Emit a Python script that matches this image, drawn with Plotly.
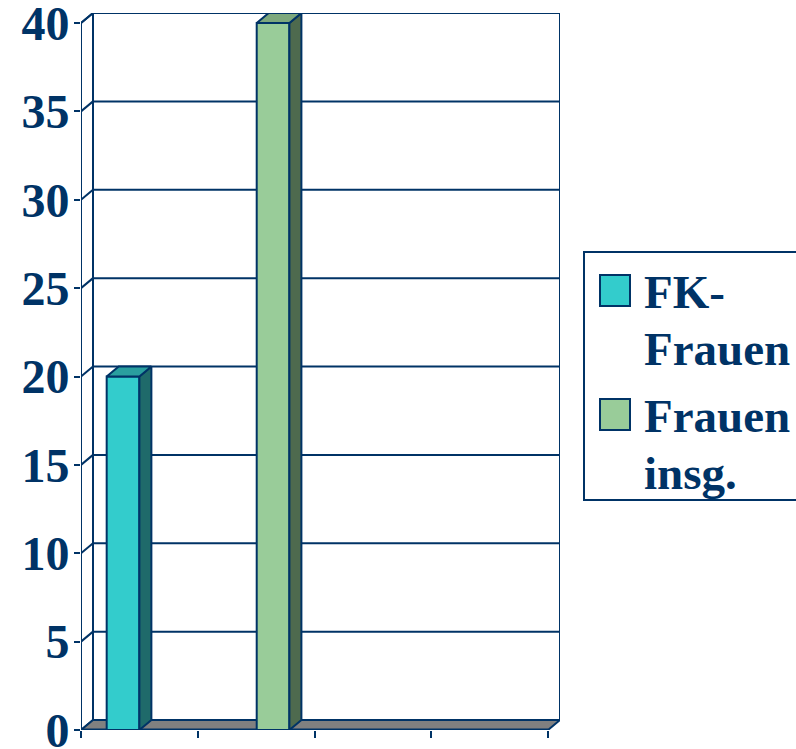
import plotly.graph_objects as go

# --- data -------------------------------------------------------------
series = ["FK-Frauen", "Frauen insg."]
legend_lines = [["FK-", "Frauen"], ["Frauen", "insg."]]
values = [20, 40]
y_ticks = [0, 5, 10, 15, 20, 25, 30, 35, 40]

# --- styling / geometry -------------------------------------------------
NAVY = "#003366"
FACE = ["#33CCCC", "#99CC99"]
TOP = ["#2A9F9F", "#7DA87D"]
SIDE = ["#1F6A6A", "#4E6A4E"]
FLOOR = "#808080"
FONT = "Liberation Serif"

W, H = 796, 749
ML, MR, MT, MB = 81, 236, 13, 19
DEPTH_PX_X, DEPTH_PX_Y = 12, 10
N_SLOTS = 4
Y_MAX = 40

slot_px = (W - ML - MR - DEPTH_PX_X) / N_SLOTS
unit_px = (H - MT - MB - DEPTH_PX_Y) / Y_MAX
DX = DEPTH_PX_X / slot_px
DY = DEPTH_PX_Y / unit_px

bar_centers = [0.36, 1.645]
bar_width = 0.28

fig = go.Figure()

# Front faces of the bars
fig.add_trace(go.Bar(
    x=bar_centers, y=values, width=bar_width,
    marker=dict(color=FACE, line=dict(color=NAVY, width=2)),
    showlegend=False, hoverinfo="skip",
))

# Side and top faces give the bars their depth
for i, v in enumerate(values):
    xl = bar_centers[i] - bar_width / 2
    xr = bar_centers[i] + bar_width / 2
    fig.add_trace(go.Scatter(
        x=[xr, xr + DX, xr + DX, xr, xr],
        y=[0, DY, v + DY, v, 0],
        fill="toself", fillcolor=SIDE[i], mode="lines",
        line=dict(color=NAVY, width=2), showlegend=False, hoverinfo="skip",
    ))
    fig.add_trace(go.Scatter(
        x=[xl, xl + DX, xr + DX, xr, xl],
        y=[v, v + DY, v + DY, v, v],
        fill="toself", fillcolor=TOP[i], mode="lines",
        line=dict(color=NAVY, width=2), showlegend=False, hoverinfo="skip",
    ))

shapes = []
# back wall
shapes.append(dict(type="rect", xref="x", yref="y", layer="below",
                   x0=DX, x1=N_SLOTS + DX, y0=DY, y1=Y_MAX + DY,
                   fillcolor="white", line=dict(color=NAVY, width=2)))
# left wall
shapes.append(dict(type="path", xref="x", yref="y", layer="below",
                   path=f"M 0 0 L {DX} {DY} L {DX} {Y_MAX + DY} L 0 {Y_MAX} Z",
                   fillcolor="white", line=dict(color=NAVY, width=2)))
# grid lines on back wall and left wall
for t in y_ticks[1:]:
    shapes.append(dict(type="line", xref="x", yref="y", layer="below",
                       x0=DX, x1=N_SLOTS + DX, y0=t + DY, y1=t + DY,
                       line=dict(color=NAVY, width=2)))
    shapes.append(dict(type="line", xref="x", yref="y", layer="below",
                       x0=0, x1=DX, y0=t, y1=t + DY,
                       line=dict(color=NAVY, width=2)))
# floor
shapes.append(dict(type="path", xref="x", yref="y", layer="below",
                   path=f"M 0 0 L {N_SLOTS} 0 L {N_SLOTS + DX} {DY} L {DX} {DY} Z",
                   fillcolor=FLOOR, line=dict(color=NAVY, width=2)))
shapes.append(dict(type="line", xref="x", yref="y", layer="below",
                   x0=0, x1=N_SLOTS, y0=0, y1=0,
                   line=dict(color=NAVY, width=3)))
# front vertical edge of the value axis
shapes.append(dict(type="line", xref="x", yref="y", layer="below",
                   x0=0, x1=0, y0=0, y1=Y_MAX,
                   line=dict(color=NAVY, width=2)))

# --- legend (drawn in pixel-derived paper coordinates) ------------------
plot_w = W - ML - MR
plot_h = H - MT - MB


def px_x(px):
    return (px - ML) / plot_w


def px_y(py):
    return (H - MB - py) / plot_h


shapes.append(dict(type="rect", xref="paper", yref="paper",
                   x0=px_x(584), x1=px_x(805), y0=px_y(500), y1=px_y(252),
                   fillcolor="white", line=dict(color=NAVY, width=2)))
annotations = []
legend_tops = [275, 399]
for i, lines in enumerate(legend_lines):
    top = legend_tops[i]
    shapes.append(dict(type="rect", xref="paper", yref="paper",
                       x0=px_x(600), x1=px_x(630), y0=px_y(top + 31), y1=px_y(top),
                       fillcolor=FACE[i], line=dict(color=NAVY, width=2)))
    for j, txt in enumerate(lines):
        annotations.append(dict(
            text=txt, xref="paper", yref="paper", showarrow=False,
            x=px_x(642), y=px_y(top + 17 + j * 57),
            xanchor="left", yanchor="middle",
            font=dict(family=FONT, size=47, color=NAVY, weight="bold"),
        ))

fig.update_layout(
    width=W, height=H,
    margin=dict(l=ML, r=MR, t=MT, b=MB, pad=0, autoexpand=False),
    paper_bgcolor="white", plot_bgcolor="white",
    shapes=shapes, annotations=annotations,
    showlegend=False,
    xaxis=dict(range=[0, N_SLOTS + DX], showgrid=False, zeroline=False,
               showline=False, showticklabels=False, automargin=False,
               tickvals=list(range(N_SLOTS + 1)), ticks="outside",
               ticklen=7, tickwidth=2, tickcolor=NAVY, fixedrange=True),
    yaxis=dict(range=[0, Y_MAX + DY], showgrid=False, zeroline=False,
               showline=False, tickvals=y_ticks, ticks="outside",
               ticklen=6, tickwidth=2, tickcolor=NAVY, automargin=False,
               ticklabeloverflow="allow", ticklabelstandoff=-5,
               tickfont=dict(family=FONT, size=48, color=NAVY, weight="bold"),
               fixedrange=True),
)

fig.write_html("out.html")
